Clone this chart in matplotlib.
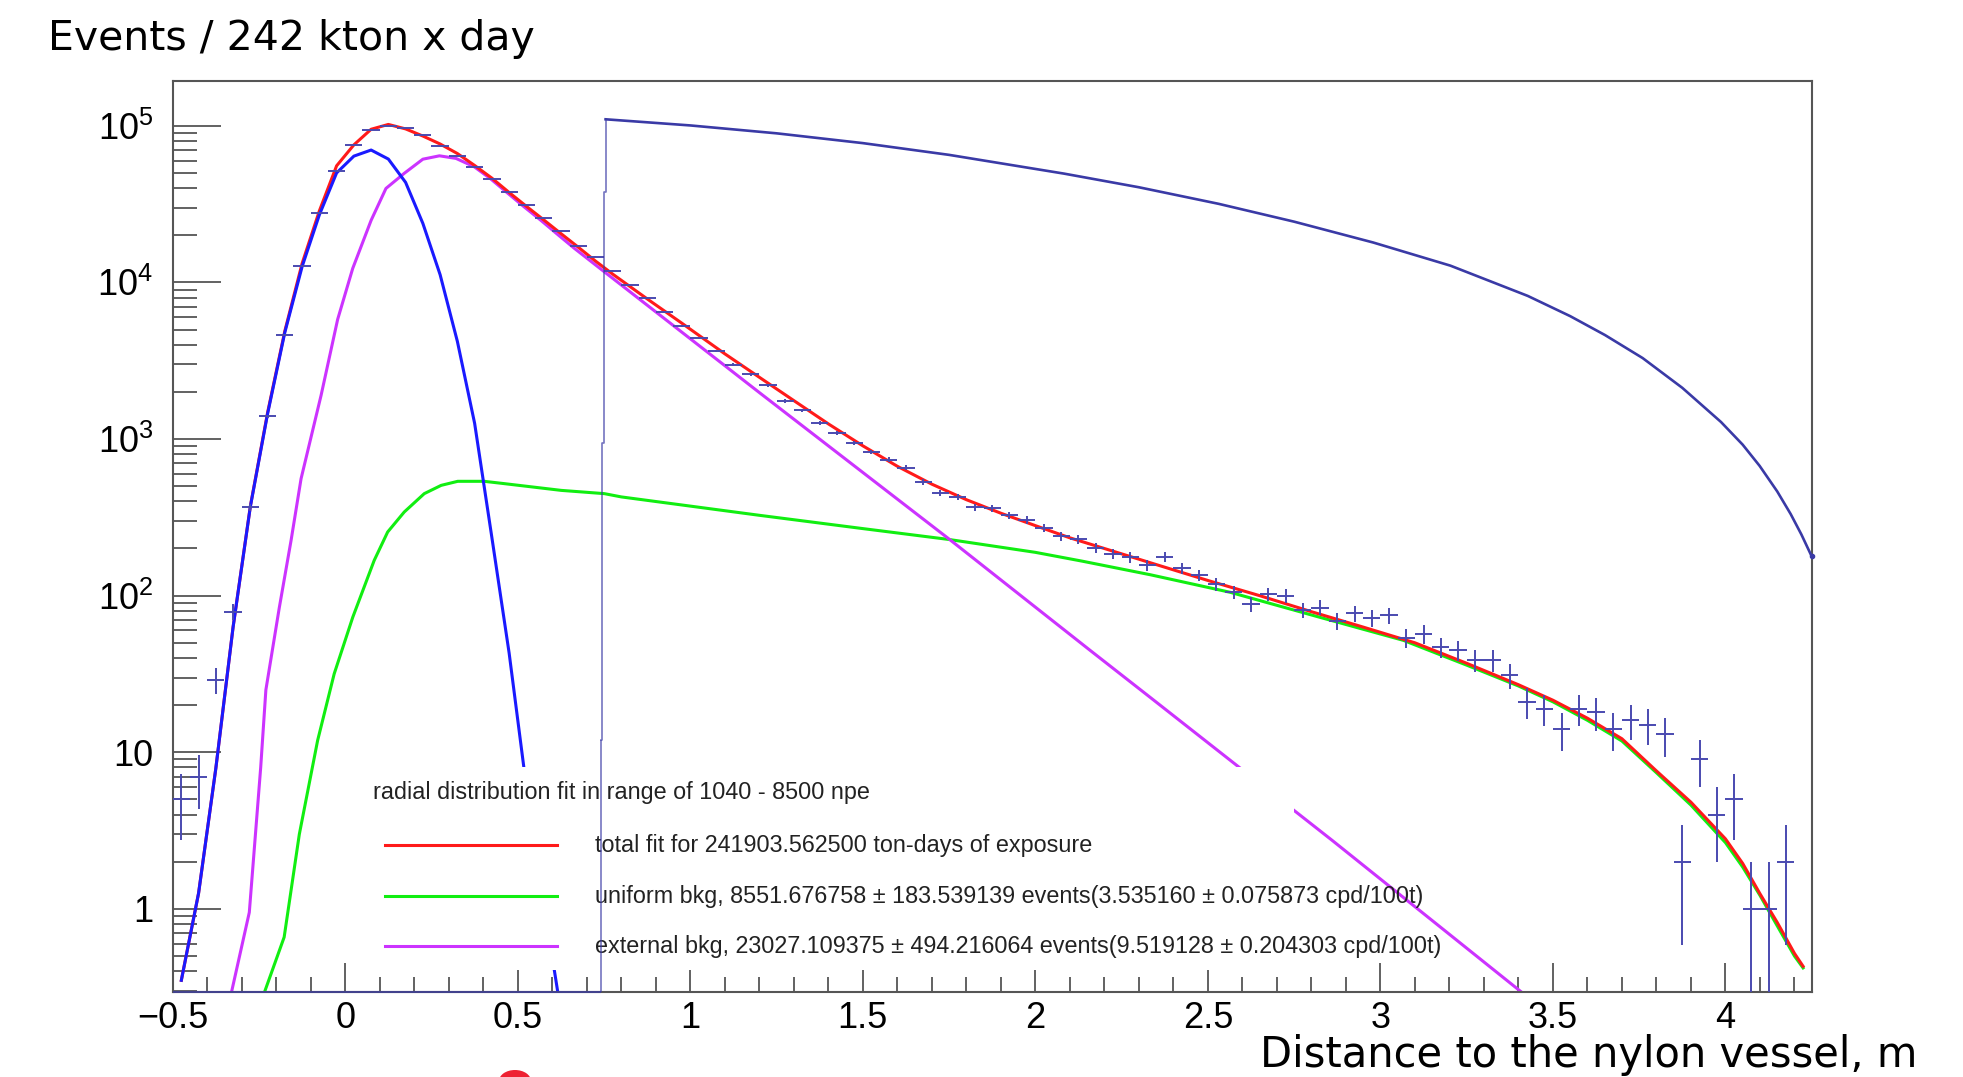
import numpy as np
import matplotlib
matplotlib.use('Agg')
import matplotlib.pyplot as plt
from matplotlib.ticker import LogLocator, MultipleLocator, FuncFormatter, NullFormatter
from matplotlib.patches import Rectangle, Ellipse
from matplotlib.lines import Line2D

# measured histogram: counts in 0.05 m bins from -0.5 to 4.25 m
bin_edges = np.linspace(-0.5, 4.25, 96)
counts = [5, 7, 29, 79, 368, 1396, 4645, 12640, 27940, 51100,
          75300, 94300, 99600, 96200, 86700, 74500, 64350, 54700, 45860, 37500,
          31100, 25700, 21200, 17100, 14550, 11850, 9590, 7963, 6481, 5250,
          4443, 3651, 2987, 2591, 2204, 1750, 1525, 1266, 1093, 943,
          826, 738, 656, 531, 452, 426, 368, 362, 325, 305,
          271, 239, 230, 202, 185, 176, 156, 177, 150, 135,
          118, 105, 88, 102, 100, 81, 84, 69, 77, 72,
          75, 54, 57, 47, 45, 39, 39, 31, 21, 19,
          14, 19, 18, 14, 16, 15, 13, 2, 9, 4,
          5, 1, 1, 2, 0]

# total fit
red_x = [-0.475, -0.425, -0.375, -0.325, -0.275, -0.225, -0.175, -0.125, -0.075, -0.025,
         0.025, 0.075, 0.125, 0.175, 0.225, 0.275, 0.325, 0.375, 0.425, 0.475,
         0.525, 0.575, 0.625, 0.675, 0.725, 0.775, 0.875, 0.975, 1.1, 1.2,
         1.3, 1.4, 1.5, 1.6, 1.7, 1.8, 1.9, 2.0, 2.1, 2.2,
         2.35, 2.5, 2.65, 2.8, 2.95, 3.1, 3.25, 3.4, 3.5, 3.6,
         3.7, 3.8, 3.9, 4.0, 4.05, 4.1, 4.15, 4.2, 4.225]
red_y = [0.35, 1.26, 7.9, 63, 372, 1475, 4900, 13200, 28600, 55500,
         75500, 95000, 102000, 95500, 86000, 76500, 66500, 55800, 46300, 37500,
         30600, 25100, 20500, 16800, 13700, 11300, 7850, 5500, 3500, 2480,
         1760, 1250, 905, 670, 515, 410, 336, 280, 234, 200,
         158, 125, 100, 79, 63, 50, 37, 27, 21.5, 16.5,
         12.2, 7.6, 4.8, 2.8, 1.95, 1.25, 0.82, 0.52, 0.43]

# signal component
blue_x = [-0.475, -0.425, -0.375, -0.325, -0.275, -0.225, -0.175, -0.125, -0.075, -0.025,
          0.025, 0.075, 0.125, 0.175, 0.225, 0.275, 0.325, 0.375, 0.425, 0.475,
          0.525, 0.575, 0.625]
blue_y = [0.35, 1.26, 7.9, 63, 370, 1450, 4800, 12600, 27000, 50000,
          64000, 70000, 61300, 43500, 23800, 11200, 4200, 1260, 235, 43,
          6.0, 1.1, 0.22]

# uniform background
green_x = [-0.24, -0.177, -0.133, -0.08, -0.032, 0.022, 0.084, 0.123, 0.171, 0.229,
           0.278, 0.326, 0.403, 0.461, 0.626, 0.751, 0.80, 1.0, 1.204, 1.5,
           1.752, 2.0, 2.136, 2.333, 2.565, 2.822, 3.067, 3.25, 3.4, 3.5,
           3.6, 3.7, 3.8, 3.9, 4.0, 4.05, 4.1, 4.15, 4.2, 4.225]
green_y = [0.27, 0.66, 3.0, 11.9, 31.7, 73, 168, 255, 342, 448,
           506, 537, 537, 519, 470, 448, 427, 373, 325, 268,
           228, 189, 166, 136, 105, 73, 51.8, 36, 26.5, 21,
           16, 11.8, 7.4, 4.6, 2.65, 1.85, 1.22, 0.78, 0.5, 0.42]

# external background
mag_x = [-0.335, -0.278, -0.245, -0.23, -0.191, -0.157, -0.128, -0.070, -0.022, 0.0217,
         0.075, 0.118, 0.171, 0.225, 0.273, 0.321, 0.374, 0.42, 0.471, 0.519,
         0.568, 0.616, 0.664, 0.739, 1.204, 1.752, 2.159, 2.333, 2.861, 3.41, 3.5]
mag_y = [0.26, 0.95, 8, 25, 84, 225, 558, 1900, 5800, 12280,
         24900, 39800, 49700, 61200, 64300, 61900, 54700, 46100, 37100, 30300,
         24800, 20200, 16500, 12250, 1950, 228, 44.7, 22.4, 2.73, 0.293, 0.2]

# reference histogram (drawn in navy)
navy_step_x = [0.741, 0.7455, 0.750, 0.7545]
navy_step_y = [12, 950, 37700, 110000]
navy_x = [0.7545, 1.0, 1.25, 1.5, 1.75, 2.083, 2.3, 2.531, 2.75, 2.979,
          3.203, 3.427, 3.55, 3.651, 3.76, 3.875, 3.987, 4.05, 4.099, 4.15,
          4.189, 4.22, 4.25]
navy_y = [110000, 100500, 89500, 77500, 65200, 49500, 40500, 31750, 24420, 17980,
          12790, 8200, 6090, 4610, 3288, 2122, 1285, 920, 674, 463,
          332, 246, 178]

legend_header = 'radial distribution fit in range of 1040 - 8500 npe'
legend_labels = ['total fit for 241903.562500 ton-days of exposure',
                 'uniform bkg, 8551.676758 \u00b1 183.539139 events(3.535160 \u00b1 0.075873 cpd/100t)',
                 'external bkg, 23027.109375 \u00b1 494.216064 events(9.519128 \u00b1 0.204303 cpd/100t)']

c_red = '#ff1a1a'
c_green = '#11ee11'
c_mag = '#cc33ff'
c_blue = '#1a1aff'
c_navy = '#3a3aa6'
c_data = '#4a4ab0'

y_lo, y_hi = 0.296, 1.94e5
x_lo, x_hi = -0.5, 4.25

plt.rcParams['mathtext.fontset'] = 'custom'
plt.rcParams['mathtext.rm'] = 'Liberation Sans'

fig = plt.figure(figsize=(19.63, 10.77), dpi=100)
ax = fig.add_axes([0.08798, 0.0792, 0.83495, 0.84587])
ax.set_yscale('log')
ax.set_xlim(x_lo, x_hi)
ax.set_ylim(y_lo, y_hi)

# fit curves
ax.plot(green_x, green_y, color=c_green, lw=2.2, zorder=2)
ax.plot(mag_x, mag_y, color=c_mag, lw=2.2, zorder=2.1)
ax.plot(red_x, red_y, color=c_red, lw=2.2, zorder=2.2)
ax.plot(blue_x, blue_y, color=c_blue, lw=2.2, zorder=2.3)

# data with poisson errors
counts = np.array(counts, dtype=float)
centers = 0.5 * (bin_edges[:-1] + bin_edges[1:])
ok = counts > 0
ax.errorbar(centers[ok], counts[ok], xerr=0.025, yerr=np.sqrt(counts[ok]),
            fmt='none', ecolor=c_data, elinewidth=1.4, capsize=0, zorder=3)

# legend box (text overflows the box like in ROOT)
ax.add_patch(Rectangle((0.1112, 0.0238), 0.5729, 0.2229, transform=ax.transAxes,
                       facecolor='white', edgecolor='none', zorder=4))
lfont = dict(family='Liberation Sans', fontsize=16.8, color='#222222', zorder=5)
ax.text(0.122, 0.2187, legend_header, transform=ax.transAxes, va='center', ha='left', **lfont)
for yy, col, lab in zip([0.161, 0.1047, 0.0497], [c_red, c_green, c_mag], legend_labels):
    ax.add_line(Line2D([0.1297, 0.2343], [yy, yy], transform=ax.transAxes, color=col, lw=2.2, zorder=5))
    ax.text(0.2577, yy, lab, transform=ax.transAxes, va='center', ha='left', **lfont)

# navy histogram on top
ax.step(navy_step_x, navy_step_y, where='post', color=c_navy, lw=1.2, alpha=0.7, zorder=6)
ax.plot(navy_x, navy_y, color=c_navy, lw=1.9, zorder=6, marker='o', markersize=3,
        markevery=[len(navy_x) - 1], clip_on=False)
ax.hlines(y_lo, x_lo, navy_step_x[0], color=c_navy, lw=1.5, alpha=0.7, zorder=6, clip_on=False)
ax.vlines(navy_step_x[0], y_lo, navy_step_y[0], color=c_navy, lw=1.2, alpha=0.7, zorder=6)

# axes styling ROOT-like
for s in ax.spines.values():
    s.set_color('#555555')
    s.set_linewidth(1.5)

ax.xaxis.set_major_locator(MultipleLocator(0.5))
ax.xaxis.set_minor_locator(MultipleLocator(0.1))
ax.xaxis.set_major_formatter(FuncFormatter(lambda v, p: ('%g' % v).replace('-', '\u2212')))
ax.yaxis.set_major_locator(LogLocator(base=10, numticks=20))
ax.yaxis.set_minor_locator(LogLocator(base=10, subs=np.arange(2, 10), numticks=20))
ax.yaxis.set_minor_formatter(NullFormatter())


def yfmt(v, pos):
    e = int(round(np.log10(v)))
    if e == 0:
        return '1'
    if e == 1:
        return '10'
    return r'$\mathregular{10^{%d}}$' % e


ax.yaxis.set_major_formatter(FuncFormatter(yfmt))

ax.tick_params(axis='both', which='both', direction='in', color='#555555', width=1.3,
               top=False, right=False, labelcolor='black')
ax.tick_params(axis='x', which='major', length=21, pad=7, labelsize=26)
ax.tick_params(axis='x', which='minor', length=11)
ax.tick_params(axis='y', which='major', length=34.5, pad=14, labelsize=26)
ax.tick_params(axis='y', which='minor', length=17.3)
for lab in ax.get_xticklabels() + ax.get_yticklabels():
    lab.set_family('Liberation Sans')

fig.text(0.02425, 0.9536, 'Events / 242 kton x day', fontsize=29.5,
         family='DejaVu Sans', va='baseline', ha='left')
fig.text(0.9766, 0.0097, 'Distance to the nylon vessel, m', fontsize=30,
         family='DejaVu Sans', va='baseline', ha='right')

# stray red mark at the bottom edge of the original image
fig.patches.append(Ellipse((515 / 1963, -4 / 1077), 32 / 1963, 22 / 1077,
                           transform=fig.transFigure, facecolor='#ee2233', edgecolor='none'))

fig.savefig('out.png', dpi=100)
